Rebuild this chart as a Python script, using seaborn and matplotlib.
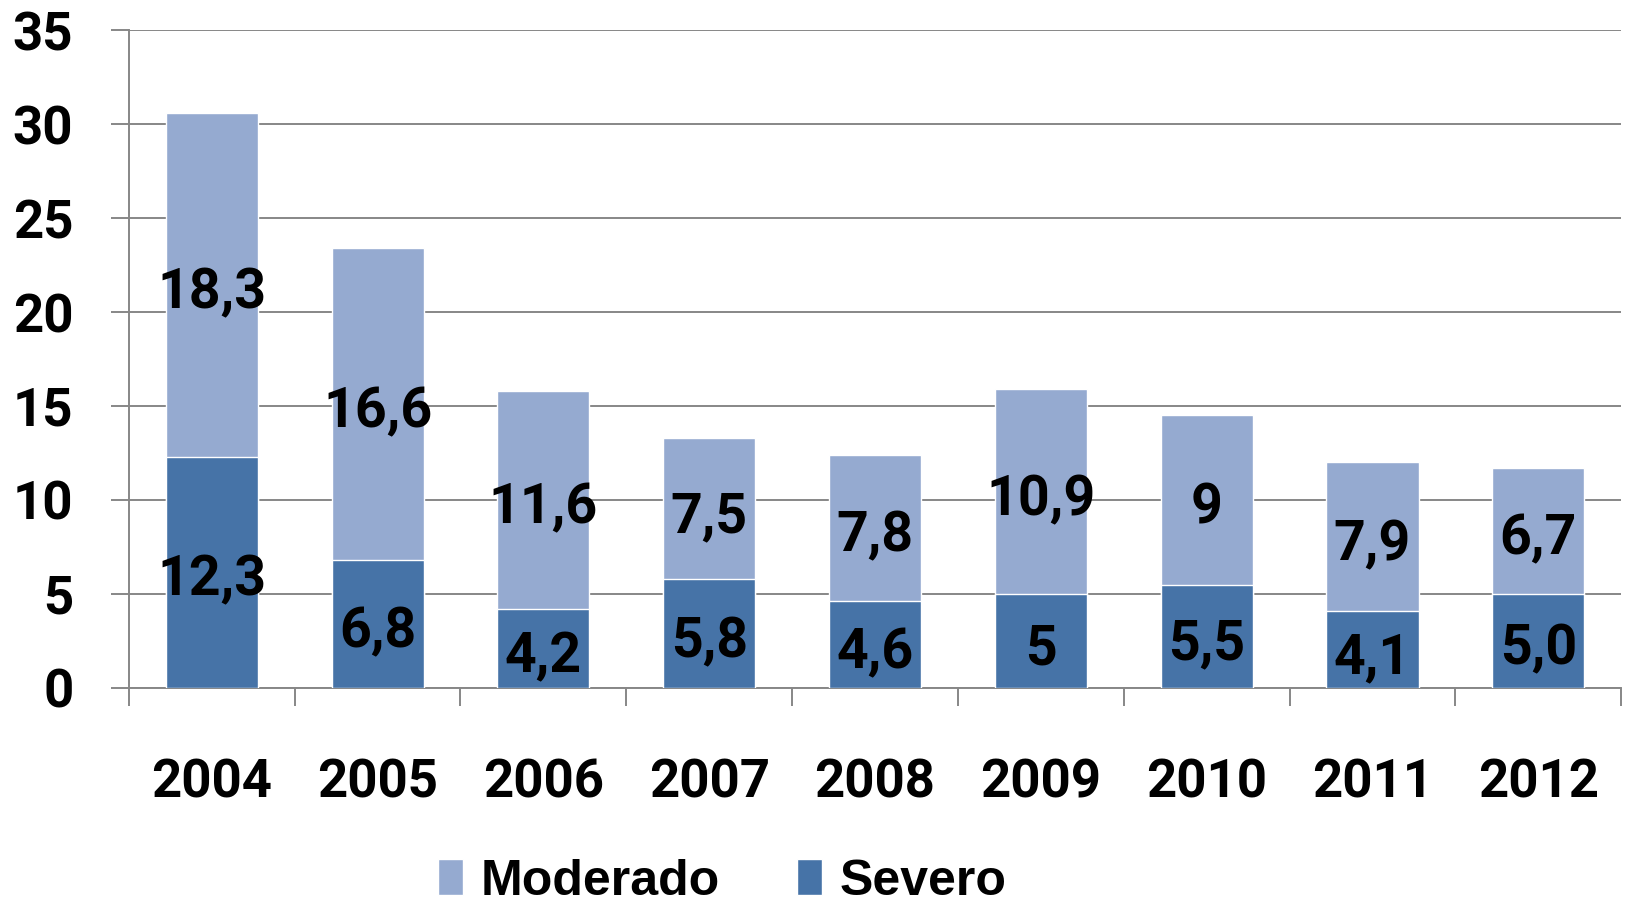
import matplotlib
matplotlib.use("Agg")
import matplotlib.pyplot as plt
import numpy as np
import pandas as pd
import seaborn as sns

# Chart data
years = ["2004", "2005", "2006", "2007", "2008", "2009", "2010", "2011", "2012"]
severo = [12.3, 6.8, 4.2, 5.8, 4.6, 5.0, 5.5, 4.1, 5.0]
moderado = [18.3, 16.6, 11.6, 7.5, 7.8, 10.9, 9.0, 7.9, 6.7]
severo_labels = ["12,3", "6,8", "4,2", "5,8", "4,6", "5", "5,5", "4,1", "5,0"]
moderado_labels = ["18,3", "16,6", "11,6", "7,5", "7,8", "10,9", "9", "7,9", "6,7"]
y_ticks = [0, 5, 10, 15, 20, 25, 30, 35]

color_mod = "#95AAD0"
color_sev = "#4673A7"
grid_gray = "#878787"

sns.set_theme(style="white")
plt.rcParams["font.family"] = ["Roboto", "DejaVu Sans"]
plt.rcParams["text.color"] = "black"
plt.rcParams["xtick.labelcolor"] = "black"
plt.rcParams["ytick.labelcolor"] = "black"

df = pd.DataFrame({"year": years, "severo": severo, "moderado": moderado})
df["total"] = df["severo"] + df["moderado"]

fig = plt.figure(figsize=(16.31, 9.02), dpi=100)
ax = fig.add_axes([0.079, 0.2373, 0.915, 0.7294])

# Stacked bars: total (light) first, then severo (dark) over it
sns.barplot(data=df, x="year", y="total", color=color_mod, width=0.555,
            saturation=1, ax=ax, label="Moderado", zorder=2)
sns.barplot(data=df, x="year", y="severo", color=color_sev, width=0.555,
            saturation=1, ax=ax, label="Severo", zorder=3)
handles, labels = ax.get_legend_handles_labels()
if ax.get_legend() is not None:
    ax.get_legend().remove()

# Value labels in each segment
for i in range(len(years)):
    ax.text(i, severo[i] / 2 - 0.45, severo_labels[i], ha="center", va="center",
            fontsize=40, fontweight="bold", color="black", zorder=5)
    ax.text(i, severo[i] + moderado[i] / 2 - 0.45, moderado_labels[i], ha="center",
            va="center", fontsize=40, fontweight="bold", color="black", zorder=5)

# Axes styling
ax.set_ylim(0, 35)
ax.set_xlim(-0.5, len(years) - 0.5)
ax.set_yticks(y_ticks)
ax.set_yticklabels([str(v) for v in y_ticks], fontsize=38, fontweight="bold")
ax.tick_params(axis="y", left=True, direction="out", length=13, width=1.4,
               color=grid_gray, pad=27)
ax.yaxis.grid(True, color=grid_gray, linewidth=1.4, zorder=0)
ax.set_axisbelow(True)

# Major x ticks at category boundaries, labels on minor ticks at centres
ax.set_xticks(np.arange(-0.5, len(years), 1.0))
ax.set_xticklabels([])
ax.tick_params(axis="x", which="major", bottom=True, direction="out", length=13,
               width=1.4, color=grid_gray)
ax.set_xticks(np.arange(len(years)), minor=True)
ax.set_xticklabels(years, minor=True, fontsize=38, fontweight="bold")
ax.tick_params(axis="x", which="minor", bottom=True, length=0, pad=50)
ax.set_xlabel("")
ax.set_ylabel("")

for side in ["top", "right"]:
    ax.spines[side].set_visible(False)
for side in ["left", "bottom"]:
    ax.spines[side].set_color(grid_gray)
    ax.spines[side].set_linewidth(1.4)

# Legend at the bottom of the figure
leg = fig.legend(handles, labels, loc="upper left", bbox_to_anchor=(0.247, 0.087),
                 ncol=2, frameon=False, handlelength=0.5, handleheight=0.75,
                 handletextpad=0.35, columnspacing=1.55, borderpad=0.2,
                 prop={"family": ["Liberation Sans Narrow", "Liberation Sans"],
                       "weight": "bold", "size": 36})

fig.savefig("out.png", dpi=100)
